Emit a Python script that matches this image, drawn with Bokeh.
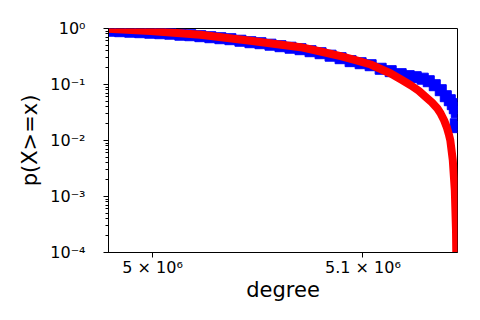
from bokeh.plotting import figure
from bokeh.models import Range1d, FixedTicker
from bokeh.embed import file_html
from bokeh.resources import INLINE

# empirical CCDF points (blue squares)
blue_degree = [4.97728e6, 4.98010e6, 4.98479e6, 4.98950e6, 4.99420e6, 4.99892e6, 5.00363e6,
               5.00835e6, 5.01308e6, 5.01781e6, 5.02254e6, 5.02728e6, 5.03202e6, 5.03677e6,
               5.04152e6, 5.04628e6, 5.05104e6, 5.05581e6, 5.06057e6, 5.06535e6, 5.07013e6,
               5.07491e6, 5.07970e6, 5.08449e6, 5.08929e6, 5.09409e6, 5.09889e6, 5.10370e6,
               5.10852e6, 5.11334e6, 5.11816e6, 5.12203e6, 5.12541e6, 5.12879e6, 5.13170e6,
               5.13460e6, 5.13750e6, 5.13993e6, 5.14187e6, 5.14332e6, 5.14429e6, 5.14526e6,
               5.14477e6, 5.14526e6]
blue_p = [0.940, 0.913, 0.895, 0.877, 0.859, 0.841, 0.824,
          0.808, 0.775, 0.759, 0.729, 0.699, 0.671, 0.644,
          0.605, 0.569, 0.546, 0.514, 0.483, 0.454, 0.427,
          0.393, 0.362, 0.327, 0.295, 0.261, 0.240, 0.221,
          0.191, 0.173, 0.153, 0.141, 0.135, 0.127, 0.1145,
          0.0971, 0.0791, 0.0618, 0.0524, 0.0445, 0.0377, 0.0320,
          0.0195, 0.0173]

# fitted curve (red line)
red_degree = [4.97540e6, 4.97916e6, 4.99892e6, 5.02254e6, 5.04628e6, 5.07013e6, 5.07970e6,
              5.08929e6, 5.09649e6, 5.10370e6, 5.11334e6, 5.11816e6, 5.12299e6, 5.12686e6,
              5.13024e6, 5.13314e6, 5.13590e6, 5.13750e6, 5.13910e6, 5.14041e6, 5.14152e6,
              5.14211e6, 5.14332e6, 5.14429e6, 5.14487e6, 5.14516e6]
red_p = [1.0, 0.992, 0.902, 0.775, 0.605, 0.464, 0.388,
         0.320, 0.272, 0.2276, 0.1572, 0.1243, 0.0972, 0.0775,
         0.0601, 0.0483, 0.0373, 0.0301, 0.0230, 0.01728, 0.01243,
         0.01012, 0.00445, 0.001296, 0.000250, 0.000032]

y_ticks = [1e-4, 1e-3, 1e-2, 1e-1, 1.0]
y_tick_labels = ["10\u207b\u2074", "10\u207b\u00b3", "10\u207b\u00b2", "10\u207b\u00b9", "10\u2070"]
y_minor = [k * 10.0 ** e for e in (-4, -3, -2, -1) for k in range(2, 10)]
x_ticks = [5.0e6, 5.1e6]
x_tick_labels = ["5 \u00d7 10\u2076", "5.1 \u00d7 10\u2076"]

FONT = "DejaVu Sans"

p = figure(frame_width=349, frame_height=224,
           x_axis_type="log", y_axis_type="log",
           x_range=Range1d(4.9793e6, 5.1456e6), y_range=Range1d(1e-4, 1.0),
           output_backend="svg", toolbar_location=None,
           min_border_left=108, min_border_right=20, min_border_top=28, min_border_bottom=60)

p.xgrid.visible = False
p.ygrid.visible = False
p.outline_line_color = "black"
p.outline_line_alpha = 1.0
p.outline_line_width = 1
p.background_fill_color = "white"
p.border_fill_color = "white"

p.scatter(blue_degree, blue_p, marker="square", size=11, color="blue")
p.line(red_degree, red_p, line_width=8, color="red", line_join="round")

p.xaxis.ticker = FixedTicker(ticks=x_ticks, minor_ticks=[])
p.xaxis.major_label_overrides = dict(zip(x_ticks, x_tick_labels))
p.yaxis.ticker = FixedTicker(ticks=y_ticks, minor_ticks=y_minor)
p.yaxis.major_label_overrides = dict(zip(y_ticks, y_tick_labels))

for ax in (p.xaxis[0], p.yaxis[0]):
    ax.axis_line_color = "black"
    ax.major_tick_line_color = "black"
    ax.minor_tick_line_color = "black"
    ax.major_tick_in = 0
    ax.major_tick_out = 5
    ax.minor_tick_in = 0
    ax.minor_tick_out = 3
    ax.major_label_text_font = FONT
    ax.major_label_text_font_size = "16px"
    ax.major_label_text_color = "black"
    ax.axis_label_text_font = FONT
    ax.axis_label_text_font_size = "21px"
    ax.axis_label_text_font_style = "normal"
    ax.axis_label_text_color = "black"

p.xaxis.axis_label = "degree"
p.yaxis.axis_label = "p(X>=x)"
p.xaxis.major_label_standoff = 0
p.yaxis.major_label_standoff = 18
p.xaxis.axis_label_standoff = -2
p.yaxis.axis_label_standoff = 5

open("out.html", "w").write(file_html(p, INLINE))
